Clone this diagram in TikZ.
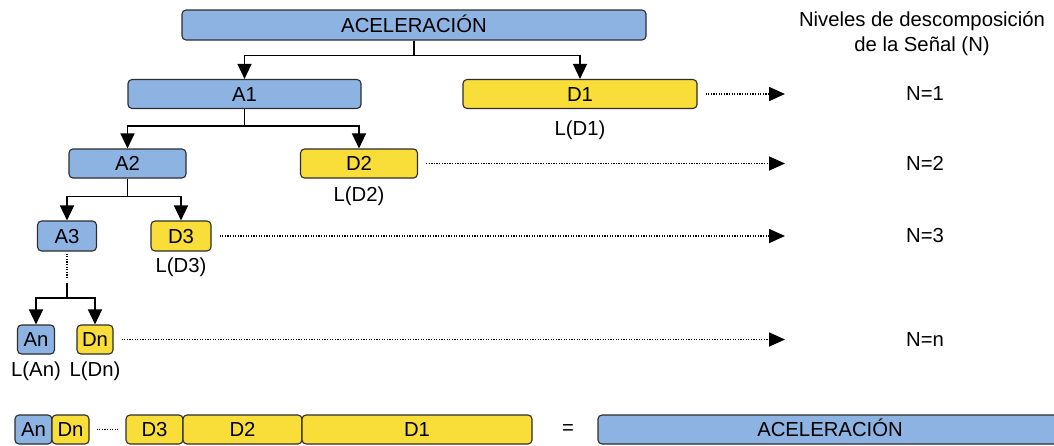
\documentclass[tikz,border=0pt]{standalone}
\usepackage{fontspec}
\setmainfont{Liberation Sans}
\usetikzlibrary{arrows.meta}
\definecolor{ablue}{RGB}{141,179,226}
\definecolor{dyellow}{RGB}{249,221,56}
\definecolor{edgegray}{RGB}{45,45,45}
\tikzset{
  box/.style={draw=edgegray, line width=1.1pt, rounded corners=4pt, inner sep=0pt, text height=14.5pt, text depth=0pt, font=\fontsize{20.3}{24}\selectfont},
  abox/.style={box, fill=ablue},
  dbox/.style={box, fill=dyellow},
  lbl/.style={font=\fontsize{20.3}{24}\selectfont},
  tree/.style={line width=1.3pt, -{Triangle[width=14pt,length=15pt]}},
  dotline/.style={line width=1.6pt, dash pattern=on 1.3pt off 1.3pt},
  dotarrow/.style={dotline, -{Triangle[width=14pt,length=16pt]}, shorten <=8pt},
}
\begin{document}
\begin{tikzpicture}[x=1pt,y=-1pt]
\useasboundingbox (0,0) rectangle (1054,445);

\node[abox, minimum width=464, minimum height=30] (acel) at (414,25) {ACELERACIÓN};
\node[abox, minimum width=233, minimum height=29] (A1) at (244.5,94) {A1};
\node[dbox, minimum width=234, minimum height=29] (D1) at (580,94) {D1};
\node[abox, minimum width=117, minimum height=29] (A2) at (127.5,163.5) {A2};
\node[dbox, minimum width=117, minimum height=29] (D2) at (359,163.5) {D2};
\node[abox, minimum width=59, minimum height=30] (A3) at (67,236) {A3};
\node[dbox, minimum width=60, minimum height=30] (D3) at (181,236) {D3};
\node[abox, minimum width=37, minimum height=29] (An) at (36,339.5) {An};
\node[dbox, minimum width=36, minimum height=29] (Dn) at (95,339.5) {Dn};

\node[lbl] (lD1) at (580,130) {L(D1)};
\node[lbl] (lD2) at (359,196) {L(D2)};
\node[lbl] (lD3) at (181,267) {L(D3)};
\node[lbl] (lAn) at (36,371) {L(An)};
\node[lbl] (lDn) at (95,371) {L(Dn)};

\node[lbl, align=center, font=\fontsize{20.3}{25}\selectfont] (hdr) at (922,34) {Niveles de descomposición\\de la Señal (N)};
\node[lbl] (n1) at (925,94) {N=1};
\node[lbl] (n2) at (925,163.5) {N=2};
\node[lbl] (n3) at (925,236) {N=3};
\node[lbl] (nn) at (925,339.5) {N=n};

\coordinate (e1) at (785,94);
\coordinate (e2) at (785,163.5);
\coordinate (e3) at (785,236);
\coordinate (en) at (785,339.5);
\coordinate (split) at (67,283);

\draw[tree] (acel.south) -- ++(0,15) -| (A1.north);
\draw[tree] (acel.south) -- ++(0,15) -| (D1.north);
\draw[tree] (A1.south) -- ++(0,17) -| (A2.north);
\draw[tree] (A1.south) -- ++(0,17) -| (D2.north);
\draw[tree] (A2.south) -- ++(0,18) -| (A3.north);
\draw[tree] (A2.south) -- ++(0,18) -| (D3.north);
\draw[dotline, shorten <=2pt, shorten >=6pt] (A3) -- (split);
\draw[tree] (split) -- ++(0,15) -| (An.north);
\draw[tree] (split) -- ++(0,15) -| (Dn.north);

\draw[dotarrow] (D1) -- (e1);
\draw[dotarrow] (D2) -- (e2);
\draw[dotarrow] (D3) -- (e3);
\draw[dotarrow] (Dn) -- (en);

\node[abox, minimum width=37, minimum height=29] (bAn) at (33.5,429.5) {An};
\node[dbox, minimum width=37, minimum height=29] (bDn) at (70.5,429.5) {Dn};
\node[dbox, minimum width=57, minimum height=29] (bD3) at (154.5,429.5) {D3};
\node[dbox, minimum width=119, minimum height=29] (bD2) at (242.5,429.5) {D2};
\node[dbox, minimum width=230, minimum height=29] (bD1) at (417,429.5) {D1};
\node[lbl] (eq) at (568,430) {=};
\node[abox, minimum width=464, minimum height=29] (bacel) at (830,429.5) {ACELERACIÓN};

\draw[dotline, shorten <=7pt, shorten >=8pt] (bDn) -- (bD3);
\end{tikzpicture}
\end{document}
